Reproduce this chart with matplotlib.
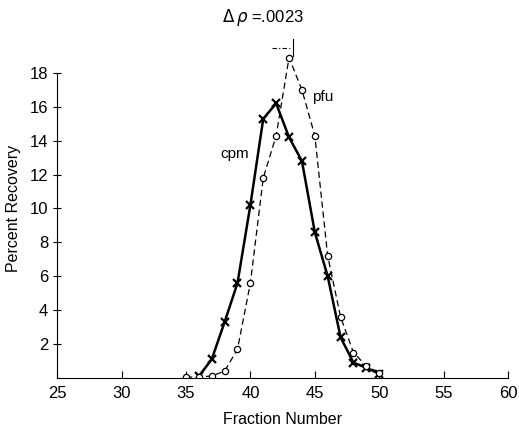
import matplotlib
matplotlib.use("Agg")
import matplotlib.pyplot as plt

plt.rcParams['font.family'] = ['Liberation Sans', 'DejaVu Sans']

# cpm (x markers, solid line)
cpm_frac = [36, 37, 38, 39, 40, 41, 42, 43, 44, 45, 46, 47, 48, 49, 50]
cpm_pct = [0.1, 1.1, 3.3, 5.6, 10.2, 15.3, 16.2, 14.2, 12.8, 8.6, 6.0, 2.4, 0.9, 0.6, 0.25]

# pfu (open circles, dashed line)
pfu_frac = [35, 36, 37, 38, 39, 40, 41, 42, 43, 44, 45, 46, 47, 48, 49, 50]
pfu_pct = [0.05, 0.05, 0.12, 0.4, 1.7, 5.6, 11.8, 14.3, 18.9, 17.0, 14.3, 7.2, 3.6, 1.5, 0.7, 0.3]

xticks = [25, 30, 35, 40, 45, 50, 55, 60]
yticks = [2, 4, 6, 8, 10, 12, 14, 16, 18]

fig = plt.figure(figsize=(5.19, 4.29), dpi=100)
ax = fig.add_axes([0.110, 0.119, 0.869, 0.79])

ax.plot(cpm_frac, cpm_pct, color='black', lw=1.8, marker='x', ms=6, mew=1.6)
ax.plot(pfu_frac, pfu_pct, color='black', lw=0.9, ls=(0, (5, 3)),
        marker='o', ms=4.5, mfc='white', mew=0.9)

# delta rho marker at the pfu peak
ax.plot([41.7, 43.1], [19.5, 19.5], color='black', lw=0.8, ls=(0, (4, 2, 1, 2)))
ax.plot([43.3, 43.3], [19.0, 20.3], color='black', lw=0.8)

ax.text(38.8, 13.2, 'cpm', fontsize=11, ha='center', va='center')
ax.text(45.6, 16.6, 'pfu', fontsize=11, ha='center', va='center')
ax.text(41.0, 21.3, r'$\Delta\,\rho$ =.0023', fontsize=12, ha='center', va='center')

ax.set_xlim(25, 60)
ax.set_ylim(0, 20)
ax.set_xticks(xticks)
ax.set_yticks(yticks)
ax.spines['top'].set_visible(False)
ax.spines['right'].set_visible(False)
ax.spines['left'].set_bounds(0, 18)
ax.tick_params(axis='x', direction='in', length=5, labelsize=12, pad=6)
ax.tick_params(axis='y', direction='inout', length=6, labelsize=12)
ax.set_xlabel('Fraction Number', fontsize=11.5, labelpad=8)
ax.set_ylabel('Percent Recovery', fontsize=11.5, labelpad=6)

fig.savefig('out.png', dpi=100)
